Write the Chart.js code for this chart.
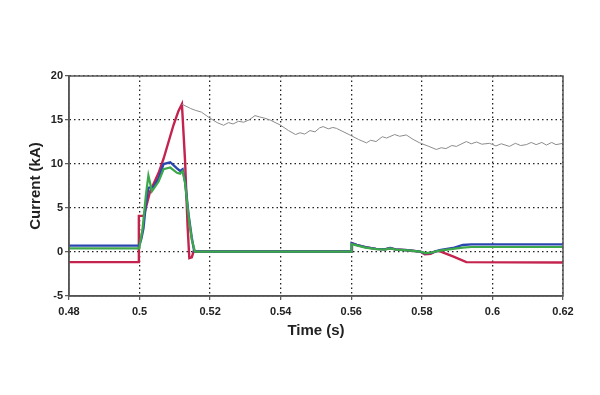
<!DOCTYPE html>
<html>
<head>
<meta charset="utf-8">
<script src="https://cdn.jsdelivr.net/npm/chart.js@4/dist/chart.umd.min.js"></script>
<style>
  html, body { margin: 0; padding: 0; background: #fff; }
  canvas { display: block; }
</style>
</head>
<body>
<canvas id="myChart" width="600" height="395"></canvas>
<script>
// axis ticks
const xTicks = [0.48, 0.5, 0.52, 0.54, 0.56, 0.58, 0.6, 0.62];
const yTicks = [-5, 0, 5, 10, 15, 20];

// series: [time (s), current (kA)]
const grayTrace = [
  [0.512, 16.8], [0.5145, 16.3], [0.5158, 16.1], [0.5175, 15.9], [0.52, 15.2], [0.522, 14.7],
  [0.5238, 14.4], [0.5252, 14.7], [0.5265, 14.55], [0.528, 14.85], [0.5295, 14.75], [0.531, 15.0],
  [0.5327, 15.5], [0.534, 15.35], [0.5355, 15.2], [0.537, 15.0], [0.54, 14.4], [0.5422, 13.8],
  [0.5442, 13.35], [0.5455, 13.55], [0.5468, 13.4], [0.5483, 13.8], [0.5497, 13.65], [0.551, 14.1],
  [0.552, 14.25], [0.5535, 14.0], [0.5548, 14.15], [0.5558, 14.05], [0.5596, 13.3], [0.562, 12.8],
  [0.5643, 12.4], [0.5655, 12.7], [0.567, 12.55], [0.5688, 13.1], [0.57, 12.95], [0.5723, 13.35],
  [0.5737, 13.15], [0.5756, 13.3], [0.5775, 12.8], [0.5794, 12.4], [0.582, 12.0], [0.5841, 11.65],
  [0.5855, 11.85], [0.5868, 11.75], [0.5885, 12.1], [0.5898, 12.0], [0.5926, 12.55], [0.594, 12.3],
  [0.5955, 12.5], [0.597, 12.25], [0.5992, 12.35], [0.601, 12.05], [0.6025, 12.3], [0.6048, 12.0],
  [0.6065, 12.35], [0.608, 12.1], [0.6096, 12.2], [0.611, 12.45], [0.6124, 12.2], [0.614, 12.45],
  [0.6153, 12.15], [0.6168, 12.45], [0.618, 12.2], [0.62, 12.35]
];

const greenTrace = [
  [0.48, 0.42], [0.4999, 0.42], [0.5008, 2.5], [0.5018, 6.5], [0.5025, 8.7], [0.5035, 6.9],
  [0.5054, 8.0], [0.5068, 9.4], [0.5087, 9.6], [0.5106, 9.0], [0.5115, 8.9], [0.5122, 9.2],
  [0.5129, 7.8], [0.5139, 4.0], [0.5148, 1.4], [0.5157, 0.05], [0.56, 0.05], [0.5601, 0.9],
  [0.5615, 0.75], [0.564, 0.5], [0.567, 0.33], [0.5695, 0.28], [0.571, 0.42], [0.5725, 0.28],
  [0.576, 0.18], [0.5795, 0.05], [0.581, -0.12], [0.5825, -0.08], [0.585, 0.15], [0.5888, 0.35],
  [0.5916, 0.5], [0.594, 0.57], [0.62, 0.57]
];

const blueTrace = [
  [0.48, 0.72], [0.4999, 0.72], [0.5005, 1.5], [0.5011, 2.7], [0.5018, 5.5], [0.5025, 7.3],
  [0.504, 7.4], [0.5054, 8.4], [0.5068, 10.0], [0.5087, 10.2], [0.5106, 9.5], [0.5115, 9.2],
  [0.5122, 9.4], [0.5129, 8.0], [0.5139, 4.2], [0.5148, 1.6], [0.5155, 0.05], [0.56, 0.05],
  [0.5601, 1.0], [0.5615, 0.8], [0.564, 0.55], [0.567, 0.35], [0.5695, 0.3], [0.571, 0.45],
  [0.5725, 0.3], [0.576, 0.2], [0.5795, 0.05], [0.581, -0.15], [0.5825, -0.1], [0.585, 0.2],
  [0.5888, 0.45], [0.5916, 0.8], [0.594, 0.87], [0.62, 0.87]
];

const redTrace = [
  [0.48, -1.15], [0.4997, -1.15], [0.4998, 4.1], [0.5012, 4.1], [0.503, 6.9], [0.5054, 9.0],
  [0.5068, 10.6], [0.5096, 14.4], [0.511, 16.0], [0.512, 16.8], [0.5129, 10.3], [0.5136, 3.0],
  [0.5141, -0.7], [0.5148, -0.6], [0.5153, 0.05], [0.56, 0.05], [0.5602, 1.0], [0.5615, 0.8],
  [0.564, 0.55], [0.567, 0.35], [0.5695, 0.3], [0.571, 0.45], [0.5725, 0.3], [0.576, 0.2],
  [0.5795, 0.05], [0.5808, -0.25], [0.5825, -0.2], [0.584, 0.1], [0.585, 0.1], [0.5888, -0.5],
  [0.5926, -1.15], [0.62, -1.2]
];

const toXY = (arr) => arr.map(([x, y]) => ({ x, y }));
const fontFamily = "'Liberation Sans', Arial, sans-serif";

// box around the plot area (top and right sides have no axis)
const frame = {
  id: 'frame',
  afterDatasetsDraw(chart) {
    const { ctx, chartArea: a } = chart;
    ctx.save();
    ctx.setLineDash([]);
    ctx.strokeStyle = '#555';
    ctx.lineWidth = 1.5;
    ctx.strokeRect(a.left, a.top, a.right - a.left, a.bottom - a.top);
    ctx.restore();
  }
};

const line = (data, color, width) => ({
  data: toXY(data),
  borderColor: color,
  borderWidth: width,
  pointRadius: 0,
  tension: 0,
  fill: false
});

const gridOpts = {
  color: '#222',
  lineWidth: 1.3,
  tickLength: 4,
  tickColor: '#555',
  tickWidth: 1.2,
  tickBorderDash: []
};

const ctx = document.getElementById('myChart').getContext('2d');
new Chart(ctx, {
  type: 'line',
  data: {
    datasets: [
      line(grayTrace, '#8c8c8c', 1),
      line(greenTrace, '#3da84a', 2.2),
      line(blueTrace, '#2a47b0', 2.4),
      line(redTrace, '#c4234e', 2.4)
    ]
  },
  options: {
    responsive: false,
    animation: false,
    layout: { padding: { left: 27, right: 37, top: 76, bottom: 55 } },
    plugins: { legend: { display: false }, tooltip: { enabled: false } },
    scales: {
      x: {
        type: 'linear',
        min: 0.48,
        max: 0.62,
        afterBuildTicks: (scale) => { scale.ticks = xTicks.map((v) => ({ value: v })); },
        afterFit: (scale) => { scale.height = 44; },
        ticks: {
          color: '#222',
          padding: 5,
          maxRotation: 0,
          autoSkip: false,
          font: { family: fontFamily, size: 11, weight: 'bold' },
          callback: (v) => String(parseFloat(Number(v).toFixed(2)))
        },
        grid: gridOpts,
        border: { color: '#555', width: 1.5, dash: [1.5, 3] },
        title: {
          display: true,
          text: 'Time (s)',
          color: '#222',
          padding: { top: 0, bottom: 0 },
          font: { family: fontFamily, size: 15, weight: 'bold' }
        }
      },
      y: {
        min: -5,
        max: 20,
        afterBuildTicks: (scale) => { scale.ticks = yTicks.map((v) => ({ value: v })); },
        afterFit: (scale) => { scale.width = 42; },
        ticks: {
          color: '#222',
          padding: 2,
          font: { family: fontFamily, size: 11, weight: 'bold' }
        },
        grid: gridOpts,
        border: { color: '#555', width: 1.5, dash: [1.5, 3] },
        title: {
          display: true,
          text: 'Current (kA)',
          color: '#222',
          padding: { top: 0, bottom: 0 },
          font: { family: fontFamily, size: 15, weight: 'bold' }
        }
      }
    }
  },
  plugins: [frame]
});
</script>
</body>
</html>
